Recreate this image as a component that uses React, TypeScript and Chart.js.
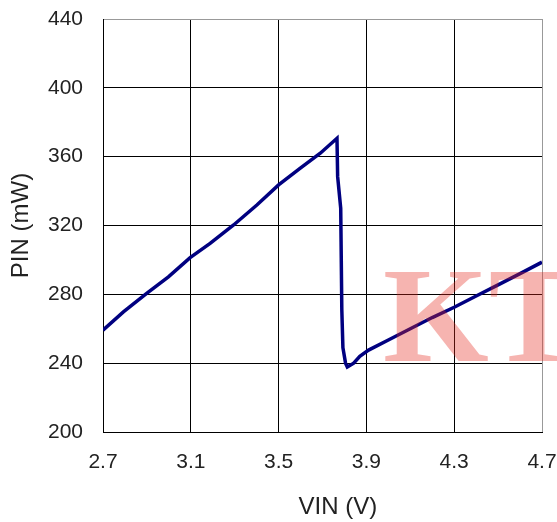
import React, { useEffect, useRef } from "react";
import { Chart, registerables } from "chart.js";

Chart.register(...registerables);

const vin: number[] = [
  2.7, 2.793, 2.899, 2.998, 3.097, 3.188, 3.295, 3.401, 3.5, 3.599, 3.69, 3.766,
  3.769, 3.783, 3.788, 3.793, 3.805, 3.813, 3.842, 3.87, 3.91, 4.0, 4.1, 4.2, 4.3, 4.4, 4.5, 4.6, 4.7,
];
const pin: number[] = [
  259.2, 269.8, 280.5, 290.2, 301.3, 309.6, 320.3, 331.9, 343.6, 353.3, 362, 370.7,
  348.4, 330, 271, 249, 240, 237.8, 240, 244, 247.6, 253.5, 260, 266.5, 272.5, 279, 285.5, 292, 298.7,
];
const xTicks: number[] = [2.7, 3.1, 3.5, 3.9, 4.3, 4.7];
const yTicks: number[] = [200, 240, 280, 320, 360, 400, 440];
const xTitle = "VIN (V)";
const yTitle = "PIN (mW)";
const watermark = "KT";

const FONT = '"Liberation Sans", Arial, sans-serif';

const overlay = {
  id: "overlay",
  afterDraw(chart: any) {
    const ctx = chart.ctx as CanvasRenderingContext2D;
    const a = chart.chartArea;
    ctx.save();
    ctx.fillStyle = "#222";
    ctx.font = `24px ${FONT}`;
    ctx.textAlign = "center";
    ctx.textBaseline = "middle";
    ctx.fillText(xTitle, a.left + (a.right - a.left) * 0.535, 507);
    ctx.translate(21, (a.top + a.bottom) / 2);
    ctx.rotate(-Math.PI / 2);
    ctx.fillText(yTitle, 0, 0);
    ctx.restore();

    ctx.save();
    ctx.font = 'bold 136px "Liberation Serif", "Times New Roman", serif';
    ctx.fillStyle = "rgba(230,40,30,0.35)";
    ctx.textAlign = "left";
    ctx.textBaseline = "alphabetic";
    ctx.fillText(watermark, 383, 361);
    ctx.restore();
  },
};

const zeroPad = (s: any) => {
  s.paddingTop = 0;
  s.paddingBottom = 0;
  s.paddingLeft = 0;
  s.paddingRight = 0;
};

export default function App() {
  const ref = useRef<HTMLCanvasElement | null>(null);
  useEffect(() => {
    if (!ref.current) return;
    const xMax = xTicks[xTicks.length - 1];
    const yMax = yTicks[yTicks.length - 1];
    const chart = new Chart(ref.current, {
      type: "scatter",
      data: {
        datasets: [
          {
            data: vin.map((x, i) => ({ x, y: pin[i] })),
            showLine: true,
            borderColor: "#000080",
            backgroundColor: "#000080",
            borderWidth: 3.5,
            pointRadius: 0,
            tension: 0,
          },
        ],
      },
      options: {
        responsive: false,
        animation: false,
        layout: { padding: { top: 19, right: 15, left: 0, bottom: 0 } },
        plugins: { legend: { display: false }, tooltip: { enabled: false } },
        scales: {
          x: {
            type: "linear",
            min: xTicks[0],
            max: xMax,
            afterBuildTicks: (s: any) => {
              s.ticks = xTicks.map((v) => ({ value: v }));
            },
            afterFit: (s: any) => {
              s.height = 90;
              zeroPad(s);
            },
            grid: {
              drawTicks: false,
              lineWidth: 1,
              color: (c: any) => (c.tick && c.tick.value === xMax ? "#999" : "#000"),
            },
            border: { color: "#000", width: 1 },
            ticks: {
              padding: 18,
              color: "#222",
              font: { family: FONT, size: 21 },
              maxRotation: 0,
              callback: (v: any) => Number(v).toFixed(1),
            },
          },
          y: {
            type: "linear",
            min: yTicks[0],
            max: yMax,
            afterBuildTicks: (s: any) => {
              s.ticks = yTicks.map((v) => ({ value: v }));
            },
            afterFit: (s: any) => {
              s.width = 103;
              zeroPad(s);
            },
            grid: {
              drawTicks: false,
              lineWidth: 1,
              color: (c: any) => (c.tick && c.tick.value === yMax ? "#999" : "#000"),
            },
            border: { color: "#000", width: 1 },
            ticks: {
              padding: 20,
              color: "#222",
              font: { family: FONT, size: 21 },
              callback: (v: any) => String(v),
            },
          },
        },
      },
      plugins: [overlay],
    });
    return () => chart.destroy();
  }, []);
  return (
    <div style={{ position: "fixed", left: 0, top: 0, width: 557, height: 522, background: "#fff" }}>
      <canvas ref={ref} width={557} height={522} />
    </div>
  );
}
